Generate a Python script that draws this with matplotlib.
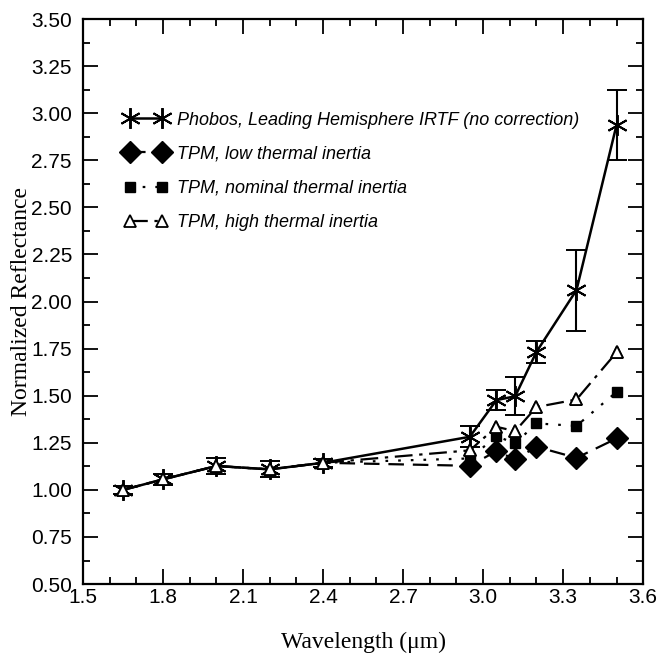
import matplotlib.pyplot as plt
from matplotlib.ticker import MultipleLocator
from matplotlib.lines import Line2D
import numpy as np

# wavelengths (um)
wl = [1.65, 1.80, 2.00, 2.20, 2.40, 2.95, 3.05, 3.12, 3.20, 3.35, 3.50]

# Phobos leading hemisphere, IRTF, no thermal correction
phobos = [1.00, 1.056, 1.127, 1.109, 1.144, 1.282, 1.477, 1.497, 1.733, 2.061, 2.937]
phobos_err = [0.02, 0.03, 0.04, 0.042, 0.02, 0.055, 0.053, 0.10, 0.06, 0.215, 0.185]

# thermal model curves
tpm_low = [1.00, 1.056, 1.127, 1.109, 1.144, 1.128, 1.206, 1.162, 1.229, 1.170, 1.273]
tpm_nom = [1.00, 1.056, 1.127, 1.109, 1.144, 1.167, 1.285, 1.247, 1.353, 1.340, 1.520]
tpm_high = [1.00, 1.056, 1.127, 1.109, 1.144, 1.210, 1.335, 1.312, 1.440, 1.480, 1.730]

labels = ["Phobos, Leading Hemisphere IRTF (no correction)",
          "TPM, low thermal inertia",
          "TPM, nominal thermal inertia",
          "TPM, high thermal inertia"]

star = (6, 2, 0)

fig = plt.figure(figsize=(6.59, 6.57), dpi=100)
ax = fig.add_axes([0.126, 0.111, 0.850, 0.860])

# TPM lines (markers for the diamonds/squares only where they differ)
l_low, = ax.plot(wl, tpm_low, color='black', lw=1.6, dashes=(7, 4),
                 marker='D', ms=11, markevery=list(range(5, 11)))
l_nom, = ax.plot(wl, tpm_nom, color='black', lw=1.6, dashes=(1.2, 4.5),
                 marker='s', ms=6.5, markevery=list(range(5, 11)))
l_high, = ax.plot(wl, tpm_high, color='black', lw=1.6, dashes=(8, 3, 1.5, 3),
                  marker='^', ms=9, mfc='white', mec='black', mew=1.3)

ax.errorbar(wl, phobos, yerr=phobos_err, color='black', lw=1.8,
            marker=star, ms=15, mew=1.4, capsize=7.5, capthick=1.5,
            elinewidth=1.5, zorder=1)
# redraw triangles on top
ax.plot(wl, tpm_high, ls='none', marker='^', ms=9, mfc='white', mec='black', mew=1.3)

ax.set_xlim(1.5, 3.6)
ax.set_ylim(0.5, 3.5)
ax.xaxis.set_major_locator(MultipleLocator(0.3))
ax.xaxis.set_minor_locator(MultipleLocator(0.1))
ax.yaxis.set_major_locator(MultipleLocator(0.25))
ax.yaxis.set_minor_locator(MultipleLocator(0.125))
ax.xaxis.set_major_formatter(plt.FuncFormatter(lambda v, p: f"{v:.1f}"))
ax.yaxis.set_major_formatter(plt.FuncFormatter(lambda v, p: f"{v:.2f}"))

ax.tick_params(which='both', direction='in', top=True, right=True, width=1.3)
ax.tick_params(which='major', length=11, labelsize=15)
ax.tick_params(axis='y', which='major', pad=8)
ax.tick_params(axis='x', which='major', pad=3)
ax.tick_params(which='minor', length=5)
for lab in ax.get_xticklabels() + ax.get_yticklabels():
    lab.set_family('Liberation Sans')
for s in ax.spines.values():
    s.set_linewidth(1.6)

ax.set_xlabel("Wavelength (\u03bcm)", family='Liberation Serif', fontsize=17, labelpad=18)
ax.set_ylabel("Normalized Reflectance", family='Liberation Serif', fontsize=17)
ax.yaxis.set_label_coords(-0.092, 0.5)

h_phobos = Line2D([], [], color='black', lw=1.8, marker=star, ms=15, mew=1.4)
leg = ax.legend([h_phobos, l_low, l_nom, l_high], labels, loc='upper left',
                bbox_to_anchor=(0.045, 0.865), frameon=False, numpoints=2,
                handlelength=2.4, labelspacing=0.95, handletextpad=0.5,
                prop={'family': 'Liberation Sans', 'style': 'italic', 'size': 13})

fig.savefig('out.png', dpi=100)
